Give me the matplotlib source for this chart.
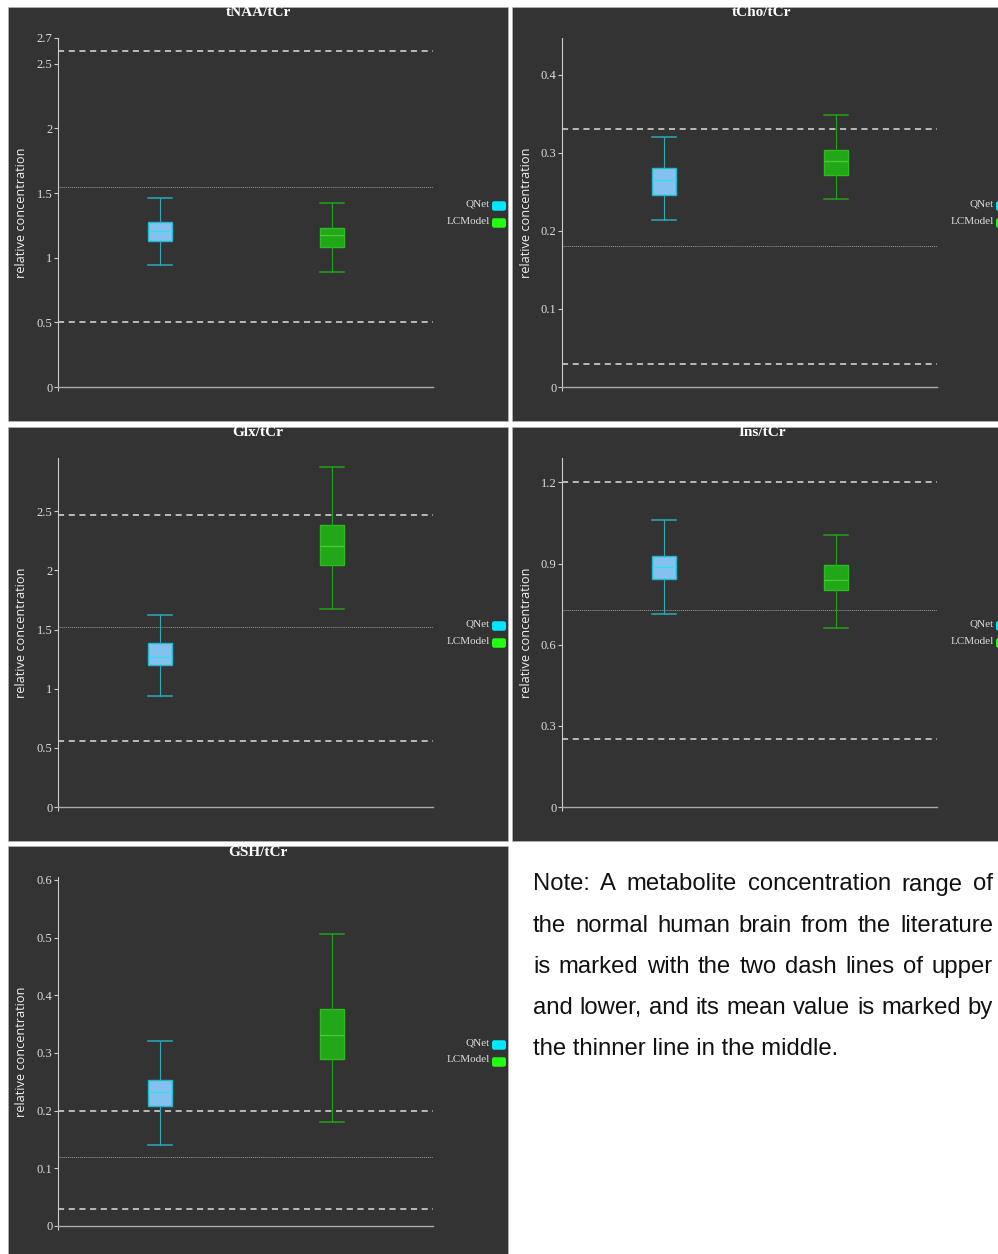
import matplotlib
matplotlib.use("Agg")
import matplotlib.pyplot as plt
from matplotlib.patches import Rectangle, FancyBboxPatch

W, H = 998, 1254

metabolites = ["tNAA/tCr", "tCho/tCr", "Glx/tCr", "Ins/tCr", "GSH/tCr"]

# QNet box stats
qnet_whislo = [0.94, 0.214, 0.94, 0.714, 0.141]
qnet_q1 = [1.13, 0.246, 1.20, 0.844, 0.208]
qnet_med = [1.205, 0.265, 1.27, 0.888, 0.233]
qnet_q3 = [1.28, 0.281, 1.385, 0.929, 0.253]
qnet_whishi = [1.465, 0.320, 1.625, 1.059, 0.320]

# LCModel box stats
lc_whislo = [0.887, 0.241, 1.67, 0.662, 0.180]
lc_q1 = [1.083, 0.2715, 2.046, 0.803, 0.289]
lc_med = [1.173, 0.289, 2.21, 0.840, 0.331]
lc_q3 = [1.23, 0.3035, 2.38, 0.896, 0.376]
lc_whishi = [1.423, 0.349, 2.873, 1.007, 0.507]

# literature range: upper / mean / lower
ref_upper = [2.6, 0.33, 2.47, 1.2, 0.2]
ref_mean = [1.55, 0.18, 1.52, 0.727, 0.12]
ref_lower = [0.5, 0.03, 0.56, 0.25, 0.03]

y_max = [2.7, 0.447, 2.95, 1.29, 0.605]
y_ticks = [
    [0, 0.5, 1, 1.5, 2, 2.5, 2.7],
    [0, 0.1, 0.2, 0.3, 0.4],
    [0, 0.5, 1, 1.5, 2, 2.5],
    [0, 0.3, 0.6, 0.9, 1.2],
    [0, 0.1, 0.2, 0.3, 0.4, 0.5, 0.6],
]

series = ["QNet", "LCModel"]
legend_colors = ["#00e8ff", "#22ff11"]

note_lines = [
    "Note: A metabolite concentration range of",
    "the normal human brain from the literature",
    "is marked with the two dash lines of upper",
    "and lower, and its mean value is marked by",
    "the thinner line in the middle.",
]

BG = "#333333"
SERIF = "Liberation Serif"


def fx(x):
    return x / W


def fy(y):
    return 1 - y / H


fig = plt.figure(figsize=(W / 100, H / 100), dpi=100)
fig.patch.set_facecolor("white")

panel_pos = [(8, 7), (512, 7), (8, 427), (512, 427), (8, 846)]
PW, PH = 500, 414

qnet_style = dict(
    boxprops=dict(facecolor="#85c1ee", edgecolor="#22b8cc", linewidth=1.0),
    medianprops=dict(color="#33ddee", linewidth=1.0),
    whiskerprops=dict(color="#2aaab8", linewidth=0.8),
    capprops=dict(color="#2aaab8", linewidth=1.1),
)
lc_style = dict(
    boxprops=dict(facecolor="#22a718", edgecolor="#2dbb22", linewidth=1.0),
    medianprops=dict(color="#44cc33", linewidth=1.0),
    whiskerprops=dict(color="#22a31a", linewidth=0.8),
    capprops=dict(color="#22a31a", linewidth=1.1),
)

for i, name in enumerate(metabolites):
    px, py = panel_pos[i]
    fig.add_artist(Rectangle((fx(px), fy(py + PH)), PW / W, PH / H,
                             transform=fig.transFigure, facecolor=BG,
                             edgecolor="#bbbbbb", linewidth=0.4, zorder=-1))

    left, right = px + 50, px + 425
    top, bottom = py + 31, py + 380
    ax = fig.add_axes([fx(left), fy(bottom), (right - left) / W, (bottom - top) / H])
    ax.set_facecolor("none")

    q_stats = dict(whislo=qnet_whislo[i], q1=qnet_q1[i], med=qnet_med[i],
                   q3=qnet_q3[i], whishi=qnet_whishi[i], fliers=[])
    l_stats = dict(whislo=lc_whislo[i], q1=lc_q1[i], med=lc_med[i],
                   q3=lc_q3[i], whishi=lc_whishi[i], fliers=[])
    ax.bxp([q_stats], positions=[1], widths=0.145, capwidths=0.145,
           patch_artist=True, showfliers=False, manage_ticks=False, **qnet_style)
    ax.bxp([l_stats], positions=[2], widths=0.145, capwidths=0.145,
           patch_artist=True, showfliers=False, manage_ticks=False, **lc_style)

    ax.axhline(ref_upper[i], color="#dddddd", lw=1.1, ls=(0, (4, 3)), zorder=1)
    ax.axhline(ref_lower[i], color="#dddddd", lw=1.1, ls=(0, (4, 3)), zorder=1)
    ax.axhline(ref_mean[i], color="#9a9a9a", lw=0.7, ls=(0, (1, 1)), zorder=1)

    ax.set_xlim(0.407, 2.587)
    ax.set_ylim(0, y_max[i])
    ax.set_xticks([0.407])
    ax.set_xticklabels([""])
    ax.tick_params(axis="x", length=3, width=0.8, color="#cccccc")
    ax.set_yticks(y_ticks[i])
    ax.set_yticklabels([f"{t:g}" for t in y_ticks[i]], fontfamily=SERIF)
    ax.tick_params(axis="y", length=3, width=0.8, color="#cccccc",
                   labelcolor="#dddddd", labelsize=9, pad=1)
    for s in ["top", "right"]:
        ax.spines[s].set_visible(False)
    ax.spines["left"].set_color("#cccccc")
    ax.spines["left"].set_linewidth(0.8)
    ax.spines["bottom"].set_color("#aaaaaa")
    ax.spines["bottom"].set_linewidth(1.0)

    fig.text(fx(px + 250), fy(py + 6), name, ha="center", va="center",
             fontsize=11, fontweight="bold", fontfamily=SERIF, color="white")
    fig.text(fx(px + 14), fy(py + 206), "relative concentration", rotation=90,
             ha="center", va="center", fontsize=9.2, fontfamily="Open Sans",
             color="#eeeeee")

    # legend
    for k, lab in enumerate(series):
        ry = py + 195 + k * 17
        fig.add_artist(FancyBboxPatch((fx(px + 485), fy(ry + 7.5)), 12 / W, 7 / H,
                                      boxstyle="round,pad=0.001,rounding_size=0.002",
                                      transform=fig.transFigure,
                                      facecolor=legend_colors[k], edgecolor="none"))
        fig.text(fx(px + 482), fy(ry + 2), lab, ha="right", va="center",
                 fontsize=8, fontfamily=SERIF, color="#dddddd")

# justified note text
renderer = fig.canvas.get_renderer()
note_left, note_right = 533, 993
base_y, spacing = 890.5, 41.2
note_font = dict(fontsize=17.2, fontfamily="Liberation Sans", color="#111111")
for i, line in enumerate(note_lines):
    y = base_y + i * spacing
    if i == len(note_lines) - 1:
        fig.text(fx(note_left), fy(y), line, ha="left", va="baseline", **note_font)
        continue
    words = line.split()
    widths = []
    for w in words:
        t = fig.text(0, 0, w, **note_font)
        widths.append(t.get_window_extent(renderer).width)
        t.remove()
    gap = (note_right - note_left - sum(widths)) / (len(words) - 1)
    x = note_left
    for w, wd in zip(words, widths):
        fig.text(fx(x), fy(y), w, ha="left", va="baseline", **note_font)
        x += wd + gap

plt.savefig("out.png", dpi=100)
